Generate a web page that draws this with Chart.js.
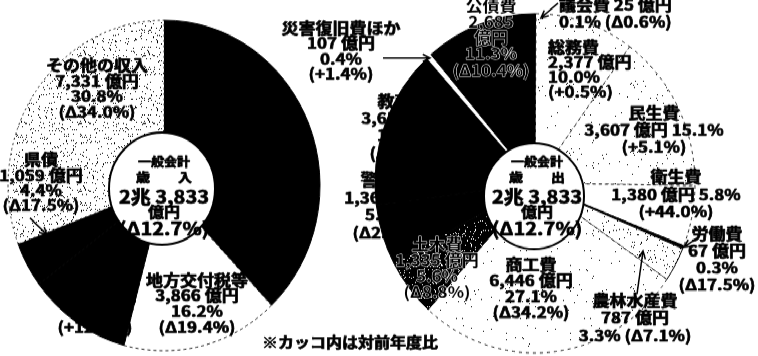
<!DOCTYPE html>
<html lang="ja">
<head>
<meta charset="utf-8">
<script src="https://cdn.jsdelivr.net/npm/chart.js@4.4.1/dist/chart.umd.min.js"></script>
<style>
  html, body { margin: 0; padding: 0; background: #fff; overflow: hidden; }
  #stage { position: absolute; left: 0; top: 0; width: 758px; height: 336px; transform: scaleY(1.06); transform-origin: 0 0; }
  canvas { position: absolute; top: 0; }
  #revenue { left: 0; }
  #spend { left: 250px; }
</style>
</head>
<body>
<div id="stage">
  <canvas id="revenue" width="330" height="336"></canvas>
  <canvas id="spend" width="508" height="336"></canvas>
</div>
<script>
// 歳入（億円）
const revenueLabels = ["県税", "地方交付税等", "国庫支出金", "県債", "その他の収入"]
const revenueValues = [9035, 3866, 2542, 1059, 7331]
const revenueShares = [37.9, 16.2, 10.7, 4.4, 30.8]
const revenueChanges = [null, "Δ19.4%", "+12.6%", "Δ17.5%", "Δ34.0%"]

// 歳出（億円）
const spendLabels = ["議会費", "総務費", "民生費", "衛生費", "労働費", "農林水産費", "商工費", "土木費", "警察費", "教育費", "災害復旧費ほか", "公債費"]
const spendValues = [25, 2377, 3607, 1380, 67, 787, 6446, 1335, 1365, 3652, 107, 2685]
const spendShares = [0.1, 10.0, 15.1, 5.8, 0.3, 3.3, 27.1, 5.6, 5.7, 15.3, 0.4, 11.3]
const spendChanges = ["Δ0.6%", "+0.5%", "+5.1%", "+44.0%", "Δ17.5%", "Δ7.1%", "Δ34.2%", "Δ8.8%", "Δ2.1%", "Δ0.3%", "+1.4%", "Δ10.4%"]

const totalChange = "Δ12.7%"

// page is stretched vertically by the stage transform; label y values are page pixels
const STRETCH = 1.06
const FLAT = 0.85
const FONT = '"Noto Sans CJK JP", "Noto Sans", sans-serif'

// screen-tone fills
function hash(x, y) {
  let h = Math.imul(x, 374761393) + Math.imul(y, 668265263)
  h = Math.imul(h ^ (h >>> 13), 1274126177)
  return ((h ^ (h >>> 16)) >>> 0) / 4294967296
}

function makeTone(density, ink, paper) {
  const tile = document.createElement("canvas")
  tile.width = tile.height = 64
  const c = tile.getContext("2d")
  c.fillStyle = paper
  c.fillRect(0, 0, 64, 64)
  c.fillStyle = ink
  for (let y = 0; y < 64; y++) {
    for (let x = 0; x < 64; x++) {
      if (hash(x, y) < density) c.fillRect(x, y, 1, 1)
    }
  }
  return c.createPattern(tile, "repeat")
}

const tones = {
  black: { fill: "#000", edge: "#000", width: 1, dash: [] },
  white: { fill: "#fff", edge: "#222", width: 1, dash: [3, 3] },
  gap: { fill: "#fff", edge: "#fff", width: 2, dash: [] },
  stipple: { fill: makeTone(0.065, "#000", "#fff"), edge: "#222", width: 1, dash: [2, 3] },
  sparse: { fill: makeTone(0.008, "#000", "#fff"), edge: "#222", width: 1, dash: [3, 4] },
  light: { fill: makeTone(0.04, "#000", "#fff"), edge: "#000", width: 1, dash: [] },
  mesh: { fill: makeTone(0.07, "#fff", "#000"), edge: "#000", width: 1, dash: [] }
}

const revenueTones = ["black", "white", "black", "black", "stipple"]
const spendTones = ["black", "sparse", "sparse", "white", "black", "light", "sparse", "mesh", "black", "black", "gap", "black"]

function drawText(ctx, text, x, y, size, align, halo) {
  ctx.save()
  ctx.translate(x, y)
  ctx.scale(1, FLAT)
  ctx.font = `bold ${size}px ${FONT}`
  ctx.textAlign = align
  ctx.textBaseline = "middle"
  ctx.lineJoin = "round"
  if (halo) {
    ctx.strokeStyle = "#fff"
    ctx.lineWidth = 1
    ctx.strokeText(text, 0, 0)
  } else {
    // heavier strokes, like the newspaper face
    ctx.strokeStyle = "#000"
    ctx.lineWidth = 0.8
    ctx.strokeText(text, 0, 0)
  }
  ctx.fillStyle = "#000"
  ctx.fillText(text, 0, 0)
  ctx.restore()
}

function drawArrow(ctx, x1, y1, x2, y2) {
  const a = Math.atan2(y2 - y1, x2 - x1)
  ctx.save()
  ctx.strokeStyle = "#000"
  ctx.lineWidth = 1.5
  ctx.beginPath()
  ctx.moveTo(x1, y1)
  ctx.lineTo(x2, y2)
  ctx.moveTo(x2 - 8 * Math.cos(a - 0.45), y2 - 8 * Math.sin(a - 0.45))
  ctx.lineTo(x2, y2)
  ctx.lineTo(x2 - 8 * Math.cos(a + 0.45), y2 - 8 * Math.sin(a + 0.45))
  ctx.stroke()
  ctx.restore()
}

const sliceLabels = {
  id: "sliceLabels",
  afterDatasetsDraw(chart, args, o) {
    const ctx = chart.ctx
    const pie = chart.getDatasetMeta(0).data[0]
    const names = chart.data.labels
    const px = x => x - o.left
    const py = y => y / STRETCH

    // 中央の円
    ctx.save()
    ctx.beginPath()
    ctx.arc(pie.x + o.hole.dx, pie.y + o.hole.dy, o.hole.r, 0, Math.PI * 2)
    ctx.fillStyle = "#fff"
    ctx.fill()
    ctx.lineWidth = 2
    ctx.strokeStyle = "#000"
    ctx.stroke()
    ctx.restore()

    const total = o.values.reduce((a, b) => a + b, 0)
    const totalText = `${Math.floor(total / 10000)}兆 ${(total % 10000).toLocaleString("en-US")}`
    const middle = [
      { text: "一般会計", dy: 162, size: 13 },
      { text: o.title, dy: 178, size: 14 },
      { text: totalText, dy: 197, size: 20 },
      { text: "億円", dy: 212, size: 16 },
      { text: `(${totalChange})`, dy: 228, size: 20 }
    ]
    middle.forEach(m => drawText(ctx, m.text, px(o.middleX), py(m.dy), m.size, "center"))

    o.layout.forEach((lay, i) => {
      if (!lay) return
      const fields = {
        n: names[i],
        a: o.values[i].toLocaleString("en-US"),
        p: o.shares[i].toFixed(1) + "%",
        c: o.changes[i]
      }
      lay.rows.forEach((row, k) => {
        const text = row.replace(/\{(\w)\}/g, (m, key) => fields[key])
        drawText(ctx, text, px(lay.x), py(lay.y + k * lay.step), 17, lay.align || "center", lay.halo)
      })
    })

    const arrows = o.arrows || []
    arrows.forEach(a => drawArrow(ctx, px(a[0]), py(a[1]), px(a[2]), py(a[3])))

    const notes = o.notes || []
    notes.forEach(n => drawText(ctx, n.text, px(n.x), py(n.y), n.size, "center"))
  }
}

const stdRows = ["{n}", "{a} 億円", "{p}", "({c})"]

const revenueLayout = [
  null,
  { x: 197, y: 280, step: 15.6, rows: stdRows },
  { x: 95, y: 280, step: 15.6, rows: stdRows },
  { x: 41, y: 160, step: 15, rows: stdRows },
  { x: 97, y: 65, step: 15.7, rows: stdRows }
]

const spendLayout = [
  { x: 559, y: 5, step: 17, align: "left", rows: ["{n} {a} 億円", "{p} ({c})"] },
  { x: 548, y: 47, step: 15, align: "left", rows: stdRows },
  { x: 654, y: 113, step: 17, rows: ["{n}", "{a} 億円 {p}", "({c})"] },
  { x: 676, y: 177, step: 17, rows: ["{n}", "{a} 億円 {p}", "({c})"] },
  { x: 717, y: 234, step: 17, rows: stdRows },
  { x: 635, y: 301, step: 17, rows: ["{n}", "{a} 億円", "{p} ({c})"] },
  { x: 531, y: 264, step: 16, rows: stdRows },
  { x: 437, y: 244, step: 16, rows: stdRows, halo: true },
  { x: 386, y: 180, step: 17.5, rows: stdRows },
  { x: 403, y: 101, step: 17.3, rows: stdRows },
  { x: 341, y: 28, step: 15.3, rows: stdRows },
  { x: 491, y: 6, step: 16, rows: ["{n}", "{a}", "億円", "{p}", "({c})"], halo: true }
]

function pieDataset(values, toneNames) {
  const t = toneNames.map(n => tones[n])
  return {
    data: values,
    backgroundColor: t.map(s => s.fill),
    borderColor: t.map(s => s.edge),
    borderWidth: t.map(s => s.width),
    borderDash: ctx => t[ctx.dataIndex] ? t[ctx.dataIndex].dash : []
  }
}

function baseOptions(radius, padding, labelOpts) {
  return {
    responsive: false,
    animation: false,
    events: [],
    radius: radius,
    layout: { padding: padding },
    plugins: {
      legend: { display: false },
      tooltip: { enabled: false },
      sliceLabels: labelOpts
    }
  }
}

new Chart(document.getElementById("revenue"), {
  type: "pie",
  data: { labels: revenueLabels, datasets: [pieDataset(revenueValues, revenueTones)] },
  options: baseOptions(156, { left: 8, right: 10, top: 19, bottom: 5 }, {
    left: 0,
    title: "歳　　入",
    middleX: 164,
    hole: { dx: -2, dy: 3, r: 53 },
    values: revenueValues,
    shares: revenueShares,
    changes: revenueChanges,
    layout: revenueLayout,
    arrows: [[30, 218, 47, 235]]
  }),
  plugins: [sliceLabels]
})

new Chart(document.getElementById("spend"), {
  type: "pie",
  data: { labels: spendLabels, datasets: [pieDataset(spendValues, spendTones)] },
  options: baseOptions(160, { left: 125, right: 63, top: 13, bottom: 3 }, {
    left: 250,
    title: "歳　　出",
    middleX: 537,
    hole: { dx: -1, dy: 12, r: 50 },
    values: spendValues,
    shares: spendShares,
    changes: spendChanges,
    layout: spendLayout,
    arrows: [[383, 58, 430, 58], [558, 3, 541, 18], [637, 294, 643, 251], [696, 239, 684, 247]],
    notes: [{ text: "※カッコ内は対前年度比", x: 350, y: 342, size: 16 }]
  }),
  plugins: [sliceLabels]
})
</script>
</body>
</html>
